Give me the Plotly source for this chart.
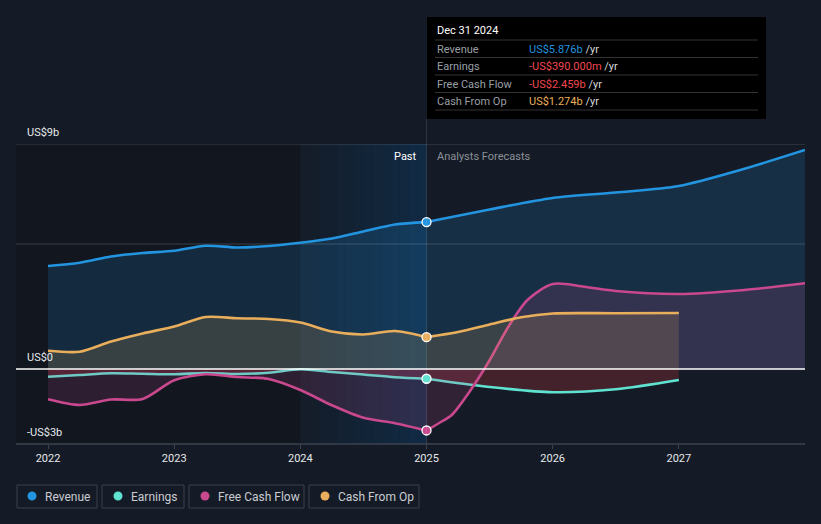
import plotly.graph_objects as go

# ---------------- data (US$ billions) ----------------
past_x = [2022, 2022.25, 2022.5, 2022.75, 2023, 2023.25, 2023.5, 2023.75,
          2024, 2024.25, 2024.5, 2024.75, 2025]
revenue_past = [4.12, 4.25, 4.5, 4.64, 4.73, 4.93, 4.86, 4.92, 5.05, 5.22, 5.5, 5.78, 5.876]
earnings_past = [-0.31, -0.24, -0.17, -0.19, -0.21, -0.16, -0.2, -0.15, -0.01, -0.12, -0.22, -0.33, -0.39]
fcf_past = [-1.21, -1.44, -1.22, -1.2, -0.45, -0.21, -0.32, -0.4, -0.84, -1.45, -1.95, -2.17, -2.459]
cfo_past = [0.73, 0.69, 1.1, 1.42, 1.7, 2.08, 2.03, 2.0, 1.86, 1.5, 1.38, 1.52, 1.274]

revenue_fx = [2025, 2025.5, 2026, 2026.5, 2027, 2027.5, 2028]
revenue_fc = [5.876, 6.38, 6.84, 7.06, 7.32, 7.98, 8.76]
earnings_fx = [2025, 2025.5, 2026, 2026.5, 2027]
earnings_fc = [-0.39, -0.72, -0.93, -0.81, -0.44]
fcf_fx = [2025, 2025.1, 2025.2, 2025.35, 2025.5, 2025.65, 2025.8, 2026, 2026.25, 2026.5, 2027, 2027.5, 2028]
fcf_fc = [-2.459, -2.16, -1.84, -0.84, 0.35, 1.7, 2.76, 3.4, 3.29, 3.12, 3.0, 3.15, 3.43]
cfo_fx = [2025, 2025.25, 2025.5, 2025.75, 2026, 2026.5, 2027]
cfo_fc = [1.274, 1.48, 1.78, 2.07, 2.22, 2.23, 2.24]

year_ticks = [2022, 2023, 2024, 2025, 2026, 2027]
year_labels = ["2022", "2023", "2024", "2025", "2026", "2027"]

series_names = ["Revenue", "Earnings", "Free Cash Flow", "Cash From Op"]
series_colors = ["#2394df", "#5fe3d0", "#c9488e", "#e9ae5b"]
tooltip_values = ["US$5.876b", "-US$390.000m", "-US$2.459b", "US$1.274b"]
tooltip_colors = ["#2394df", "#f0474f", "#f0474f", "#e9ae5b"]

# ---------------- layout constants ----------------
W, H = 821, 524
L, R, T, B = 16, 805, 144, 444
X0, X1 = 2021.746, 2028.0
Y0, Y1 = -3, 9
BG = "#151b26"
FONT = "Roboto"

def px_x(p):
    return (p - L) / (R - L)

def px_y(p):
    return (B - p) / (B - T)

fig = go.Figure()

fills = ["rgba(35,148,223,0.17)", "rgba(230,60,70,0.22)",
         "rgba(201,72,142,0.16)", "rgba(233,174,91,0.17)"]
pasts = [revenue_past, earnings_past, fcf_past, cfo_past]
fxs = [revenue_fx, earnings_fx, fcf_fx, cfo_fx]
fcs = [revenue_fc, earnings_fc, fcf_fc, cfo_fc]

for i in range(4):
    for xs, ys in ((past_x, pasts[i]), (fxs[i], fcs[i])):
        fig.add_trace(go.Scatter(
            x=xs, y=ys, mode="lines", fill="tozeroy", fillcolor=fills[i],
            line=dict(color=series_colors[i], width=2.6, shape="spline", smoothing=0.8),
            showlegend=False, hoverinfo="skip"))

for i in range(4):
    fig.add_trace(go.Scatter(
        x=[2025], y=[pasts[i][-1]], mode="markers",
        marker=dict(size=9, color=series_colors[i], line=dict(color="white", width=1.3)),
        showlegend=False, hoverinfo="skip"))

shapes = []
# darker past region
shapes.append(dict(type="rect", xref="x", yref="paper", x0=X0, x1=2024, y0=0, y1=1,
                   fillcolor="rgba(0,0,0,0.17)", line_width=0, layer="below"))
# gradient band 2024-2025
n = 14
for k in range(n):
    a = 0.03 + 0.42 * (k + 1) / n
    shapes.append(dict(type="rect", xref="x", yref="paper",
                       x0=2024 + k / n, x1=2024 + (k + 1) / n, y0=0, y1=1,
                       fillcolor=f"rgba(12,62,104,{a:.3f})", line_width=0, layer="below"))
# gridlines
for gv in (9, 5):
    shapes.append(dict(type="line", xref="paper", yref="y", x0=0, x1=1, y0=gv, y1=gv,
                       line=dict(color="rgba(255,255,255,0.18)", width=1), layer="below"))
# zero line
shapes.append(dict(type="line", xref="paper", yref="y", x0=0, x1=1, y0=0, y1=0,
                   line=dict(color="#ffffff", width=1.3)))
# bottom axis line
shapes.append(dict(type="line", xref="paper", yref="paper", x0=0, x1=1, y0=0, y1=0,
                   line=dict(color="#3c4350", width=1.5)))
# cursor line
shapes.append(dict(type="line", xref="x", yref="paper", x0=2025, x1=2025, y0=0, y1=px_y(119),
                   line=dict(color="rgba(255,255,255,0.12)", width=1)))
# tooltip box
shapes.append(dict(type="rect", xref="paper", yref="paper", x0=px_x(427), x1=px_x(766),
                   y0=px_y(119), y1=px_y(17), fillcolor="#000000", line_width=0))
for sy in (40, 57.5, 75, 92.5, 110):
    shapes.append(dict(type="line", xref="paper", yref="paper", x0=px_x(435), x1=px_x(758),
                       y0=px_y(sy), y1=px_y(sy), line=dict(color="#333333", width=1)))

ann = []
def text(xp, yp, s, color, size=11, anchor="left"):
    ann.append(dict(xref="paper", yref="paper", x=px_x(xp), y=px_y(yp), text=s,
                    showarrow=False, xanchor=anchor, yanchor="middle",
                    font=dict(family=FONT, size=size, color=color)))

text(435, 31, "Dec 31 2024", "#ffffff", 11)
rows_y = [49, 66, 84, 101]
for i in range(4):
    text(435, rows_y[i], series_names[i], "#9a9fa6", 11)
    text(527, rows_y[i], f'<span style="color:{tooltip_colors[i]}">{tooltip_values[i]}</span> /yr',
         "#d8dadd", 11)

text(25, 132, "US$9b", "#e6e8ea", 11)
text(25, 357, "US$0", "#e6e8ea", 11)
text(25, 432, "-US$3b", "#e6e8ea", 11)
text(419, 156, "Past", "#ffffff", 11, "right")
text(435, 156, "Analysts Forecasts", "#8b9098", 11)

# legend boxes, dots, labels
boxes = [(17, 97), (102, 184), (189, 304), (309, 419)]
dots = [32, 118, 205, 325]
for i, (bx0, bx1) in enumerate(boxes):
    shapes.append(dict(type="rect", xref="paper", yref="paper",
                       x0=px_x(bx0), x1=px_x(bx1), y0=px_y(508), y1=px_y(485),
                       line=dict(color="#3a404c", width=1), fillcolor="rgba(0,0,0,0)"))
    d = dots[i]
    shapes.append(dict(type="circle", xref="paper", yref="paper",
                       x0=px_x(d - 4.5), x1=px_x(d + 4.5), y0=px_y(500.5), y1=px_y(491.5),
                       line_width=0, fillcolor=series_colors[i]))
    text(d + 11, 496.5, series_names[i], "#c9ccd1", 12)

fig.update_layout(
    width=W, height=H,
    margin=dict(l=L, r=W - R, t=T, b=H - B),
    paper_bgcolor=BG, plot_bgcolor=BG,
    shapes=shapes, annotations=ann, showlegend=False,
    xaxis=dict(range=[X0, X1], tickvals=year_ticks, ticktext=year_labels,
               showgrid=False, zeroline=False, ticks="outside", ticklen=4,
               tickcolor="#3c4350", tickfont=dict(family=FONT, size=11, color="#e6e8ea"),
               fixedrange=True),
    yaxis=dict(range=[Y0, Y1], showgrid=False, zeroline=False, showticklabels=False,
               fixedrange=True),
)

fig.write_html("out.html", config=dict(displayModeBar=False),
               post_script="document.body.style.margin='0';document.body.style.background='#151b26';")
